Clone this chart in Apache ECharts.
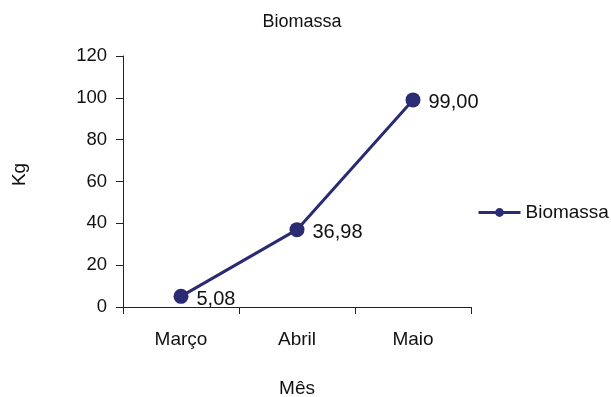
<!DOCTYPE html>
<html>
<head>
<meta charset="utf-8">
<script src="https://cdn.jsdelivr.net/npm/echarts@6/dist/echarts.min.js"></script>
<style>
  html, body { margin: 0; padding: 0; background: #fff; }
  #chart { width: 611px; height: 397px; }
</style>
</head>
<body>
<div id="chart"></div>
<script>
// Monthly biomass (kg)
const months = ['Março', 'Abril', 'Maio'];
const biomassa = [5.08, 36.98, 99.00];
const yTicks = { min: 0, max: 120, interval: 20 };

const font = 'Liberation Sans, Arial, sans-serif';
const lineColor = '#2B2B74';
const textColor = '#111';

const chart = echarts.init(document.getElementById('chart'));
chart.setOption({
  animation: false,
  backgroundColor: '#fff',
  title: {
    text: 'Biomassa',
    left: 297, top: 8, textAlign: 'center',
    textStyle: { fontFamily: font, fontSize: 18, fontWeight: 'normal', color: textColor }
  },
  legend: {
    data: ['Biomassa'],
    left: 472, top: 198,
    itemWidth: 42, itemHeight: 11, itemGap: 4,
    lineStyle: { width: 3 },
    textStyle: { fontFamily: font, fontSize: 19, color: textColor }
  },
  grid: { left: 123, right: 140, top: 56, bottom: 90, outerBoundsMode: 'none' },
  xAxis: {
    type: 'category',
    data: months,
    boundaryGap: true,
    name: 'Mês', nameLocation: 'middle', nameGap: 72,
    nameTextStyle: { fontFamily: font, fontSize: 19, color: textColor },
    axisLine: { lineStyle: { color: '#222', width: 1 } },
    axisTick: { show: true, length: 7, lineStyle: { color: '#222' } },
    axisLabel: { fontFamily: font, fontSize: 19, color: textColor, margin: 23 }
  },
  yAxis: {
    type: 'value',
    min: yTicks.min, max: yTicks.max, interval: yTicks.interval,
    name: 'Kg', nameLocation: 'middle', nameGap: 94, nameRotate: 90,
    nameTextStyle: { fontFamily: font, fontSize: 19, color: textColor, padding: [0, 0, 0, 14] },
    axisLine: { show: true, lineStyle: { color: '#222', width: 1 } },
    axisTick: { show: true, length: 7, lineStyle: { color: '#222' } },
    axisLabel: { fontFamily: font, fontSize: 18.5, color: textColor, margin: 16 },
    splitLine: { show: false }
  },
  series: [{
    name: 'Biomassa',
    type: 'line',
    data: biomassa,
    symbol: 'circle',
    symbolSize: 15,
    itemStyle: { color: lineColor },
    lineStyle: { color: lineColor, width: 3 },
    label: {
      show: true, position: 'right', distance: 8, offset: [0, 3],
      fontFamily: font, fontSize: 20, color: textColor,
      formatter: p => p.value.toFixed(2).replace('.', ',')
    }
  }]
});
</script>
</body>
</html>
